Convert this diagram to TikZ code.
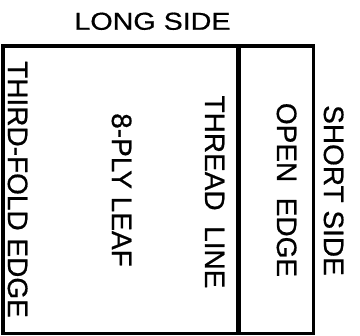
\documentclass[tikz,border=0pt]{standalone}
\usepackage{fontspec}
\setmainfont{Liberation Sans}
\newfontfamily\lblfont[FakeBold=0.6]{Liberation Sans}
\begin{document}
\begin{tikzpicture}[x=1pt,y=1pt,
  vlabel/.style={font=\lblfont\fontsize{28}{30}\selectfont, rotate=-90, inner sep=0pt, text height=20pt, text depth=0pt, anchor=center},
  hlabel/.style={font=\lblfont\fontsize{24.5}{27}\selectfont, inner sep=0pt, text height=17.5pt, text depth=0pt, anchor=center, xscale=1.17},
  frame/.style={draw=black, line width=3.5pt, inner sep=0pt, minimum width=310.5pt, minimum height=287.5pt, anchor=north west}]
\useasboundingbox (0,0) rectangle (360,-336);
\node[frame] (sheet) at (1.5,-44.5) {};
\coordinate (tTop) at (238.7,-44.5);
\coordinate (tBot) at (238.7,-332);
\draw[line width=4.5pt] (tTop) -- (tBot);
\node[hlabel] (long) at (152.5,-21) {LONG SIDE};
\node[vlabel] (third) at (18,-189.5) {THIRD-FOLD EDGE};
\node[vlabel] (leaf) at (122,-190) {8-PLY LEAF};
\node[vlabel] (thread) at (215,-192) {THREAD\ \ LINE};
\node[vlabel] (open) at (287,-190) {OPEN\ \ EDGE};
\node[vlabel] (short) at (334,-190.5) {SHORT SIDE};
\end{tikzpicture}
\end{document}
